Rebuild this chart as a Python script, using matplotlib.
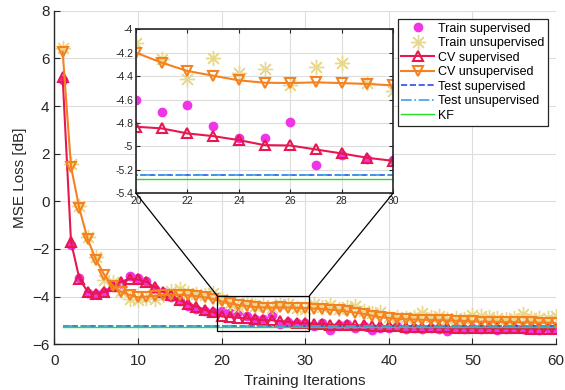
import numpy as np
import matplotlib
matplotlib.use("Agg")
import matplotlib.pyplot as plt
from matplotlib.patches import Rectangle, ConnectionPatch
from matplotlib.ticker import FuncFormatter

plt.rcParams['font.family'] = ['Liberation Sans', 'DejaVu Sans']

iters = np.arange(1, 61)

train_sup = [5.1, -1.85, -3.2, -3.85, -3.87, -3.8, -3.6, -3.45, -3.15, -3.2,
             -3.35, -3.7, -3.8, -4.0, -4.2, -4.4, -4.5, -4.6, -4.65, -4.60,
             -4.704, -4.65, -4.824, -4.93, -4.926, -4.79, -5.157, -5.077, -5.108, -5.114,
             -5.25, -5.1, -5.4, -5.2, -5.15, -5.3, -5.25, -5.4, -5.3, -5.3,
             -5.25, -5.35, -5.3, -5.35, -5.3, -5.35, -5.45, -5.3, -5.35, -5.3,
             -5.35, -5.3, -5.4, -5.35, -5.3, -5.35, -5.3, -5.4, -5.3, -5.35]

train_unsup = [6.42, 1.55, -0.2, -1.5, -2.35, -3.3, -3.4, -3.75, -4.1, -4.15,
               -4.05, -4.1, -3.95, -3.75, -3.7, -3.85, -3.9, -3.95, -3.85, -4.12,
               -4.256, -4.427, -4.248, -4.376, -4.336, -4.476, -4.325, -4.29, -4.456, -4.527,
               -4.3, -4.45, -4.35, -4.5, -4.45, -4.4, -4.6, -4.7, -4.65, -4.85,
               -4.85, -4.9, -4.85, -4.7, -4.85, -4.8, -4.95, -4.9, -4.95, -4.78,
               -4.82, -4.85, -4.9, -4.95, -4.9, -4.72, -4.9, -4.9, -4.88, -4.82]

cv_sup = [5.2, -1.7, -3.25, -3.8, -3.87, -3.8, -3.55, -3.37, -3.25, -3.28,
          -3.38, -3.6, -3.8, -3.95, -4.15, -4.3, -4.42, -4.55, -4.65, -4.832,
          -4.846, -4.889, -4.912, -4.946, -4.989, -4.992, -5.026, -5.06, -5.097, -5.123,
          -5.14, -5.15, -5.17, -5.18, -5.19, -5.2, -5.21, -5.22, -5.23, -5.24,
          -5.25, -5.26, -5.27, -5.27, -5.28, -5.29, -5.29, -5.3, -5.3, -5.31,
          -5.31, -5.32, -5.32, -5.33, -5.33, -5.33, -5.34, -5.34, -5.35, -5.35]

cv_unsup = [6.28, 1.45, -0.3, -1.6, -2.46, -3.1, -3.55, -3.8, -3.93, -4.03,
            -4.0, -3.97, -3.93, -3.92, -3.92, -3.95, -3.98, -4.03, -4.1, -4.2,
            -4.285, -4.356, -4.396, -4.436, -4.456, -4.459, -4.453, -4.459, -4.467, -4.479,
            -4.5, -4.52, -4.55, -4.58, -4.62, -4.67, -4.73, -4.8, -4.86, -4.9,
            -4.93, -4.95, -4.96, -4.97, -4.98, -4.99, -5.0, -5.01, -5.02, -5.04,
            -5.05, -5.05, -5.06, -5.07, -5.07, -5.08, -5.08, -5.09, -5.09, -5.1]

test_sup = -5.24
test_unsup = -5.247
kf = -5.28

labels = ['Train supervised', 'Train unsupervised', 'CV supervised', 'CV unsupervised',
          'Test supervised', 'Test unsupervised', 'KF']

c_tsup = '#F035E6'
c_tuns = '#E8D890'
c_cvsup = '#E8174F'
c_cvuns = '#F5821F'
c_test_sup = '#2B4CF0'
c_test_uns = '#3FA0E8'
c_kf = '#22E022'
dark = '#262626'


def draw(ax):
    hs = []
    hs.append(ax.plot(iters, train_sup, linestyle='none', marker='o', ms=6,
                      mfc=c_tsup, mec=c_tsup, label=labels[0])[0])
    hs.append(ax.plot(iters, train_unsup, linestyle='none', marker=(8, 2, 0), ms=11,
                      mec=c_tuns, mew=1.0, label=labels[1])[0])
    hs.append(ax.plot(iters, cv_sup, '-', color=c_cvsup, lw=1.5, marker='^', ms=7.5,
                      mfc='none', mec=c_cvsup, mew=1.5, label=labels[2])[0])
    hs.append(ax.plot(iters, cv_unsup, '-', color=c_cvuns, lw=1.5, marker='v', ms=7.5,
                      mfc='none', mec=c_cvuns, mew=1.5, label=labels[3])[0])
    hs.append(ax.plot(iters, [test_sup] * len(iters), '--', color=c_test_sup, lw=1.2,
                      label=labels[4])[0])
    hs.append(ax.plot(iters, [test_unsup] * len(iters), '-.', color=c_test_uns, lw=1.2,
                      label=labels[5])[0])
    hs.append(ax.plot(iters, [kf] * len(iters), '-', color=c_kf, lw=1.0, label=labels[6])[0])
    return hs


fig = plt.figure(figsize=(5.65, 3.9), dpi=100)
ax = fig.add_axes([0.0961, 0.1172, 0.888, 0.8554])
hs = draw(ax)
ax.set_xlim(0, 60)
ax.set_ylim(-6, 8)
ax.set_xticks(np.arange(0, 61, 10))
ax.set_yticks(np.arange(-6, 9, 2))
ax.grid(True, color='#DDDDDD', lw=0.8)
ax.set_axisbelow(True)
for s in ['top', 'right']:
    ax.spines[s].set_visible(False)
for s in ['left', 'bottom']:
    ax.spines[s].set_color(dark)
    ax.spines[s].set_linewidth(1.0)
ax.tick_params(direction='in', length=4, labelsize=11, colors=dark, width=0.8)
ax.tick_params(axis='x', pad=7)
ax.set_xlabel('Training Iterations', fontsize=11, color=dark, labelpad=4)
ax.set_ylabel('MSE Loss [dB]', fontsize=11, color=dark, labelpad=4)

leg = ax.legend(handles=hs, loc='upper right', bbox_to_anchor=(0.9835, 0.975),
                borderaxespad=0, fontsize=9, frameon=True, fancybox=False,
                edgecolor=dark, framealpha=1, handlelength=2.6, handletextpad=0.3,
                labelspacing=0.2, borderpad=0.3)
leg.get_frame().set_linewidth(0.9)

# zoom rectangle
rx0, rx1, ry0, ry1 = 19.5, 30.5, -5.45, -3.97
ax.add_patch(Rectangle((rx0, ry0), rx1 - rx0, ry1 - ry0, fill=False, ec='black', lw=0.9, zorder=5))

# inset
axi = fig.add_axes([0.2407, 0.5044, 0.4549, 0.4205])
draw(axi)
axi.set_xlim(20, 30)
axi.set_ylim(-5.4, -4)
axi.set_xticks(np.arange(20, 31, 2))
axi.set_yticks(np.round(np.arange(-5.4, -3.99, 0.2), 1))
axi.yaxis.set_major_formatter(FuncFormatter(lambda v, p: ('%g' % round(v, 1))))
axi.grid(True, color='#DDDDDD', lw=0.8)
axi.set_axisbelow(True)
for s in axi.spines.values():
    s.set_color(dark)
    s.set_linewidth(1.2)
axi.tick_params(direction='in', length=3, labelsize=7.5, colors=dark, top=True, right=True,
                width=0.8, pad=2)

for (xa, ya, xb, yb) in [(20, -5.4, rx0, ry1), (30, -5.4, rx1, ry1)]:
    con = ConnectionPatch(xyA=(xa, ya), coordsA=axi.transData,
                          xyB=(xb, yb), coordsB=ax.transData,
                          color='black', lw=0.9)
    fig.add_artist(con)

fig.savefig('out.png', dpi=100)
